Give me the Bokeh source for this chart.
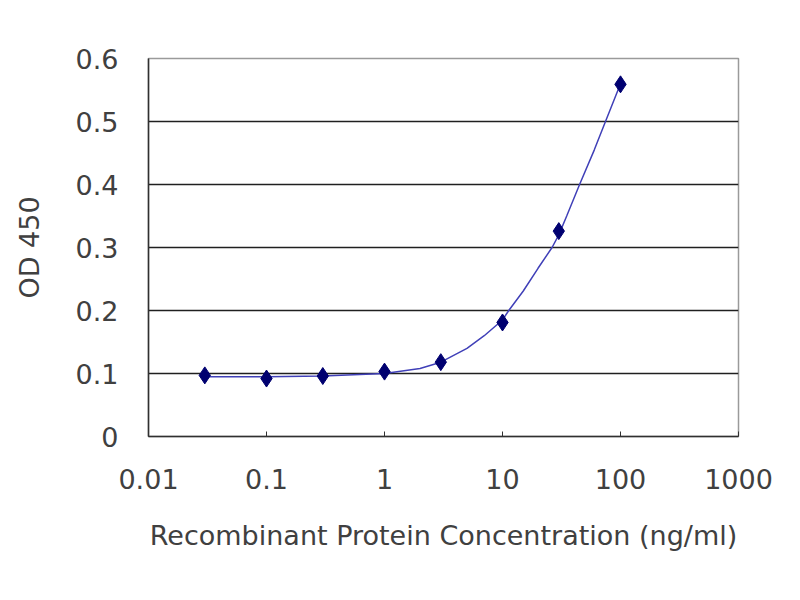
from bokeh.plotting import figure
from bokeh.embed import file_html
from bokeh.resources import INLINE
from bokeh.models import FixedTicker, CustomJSTickFormatter, Range1d

# measured points (ng/ml vs OD 450)
conc = [0.03, 0.1, 0.3, 1, 3, 10, 30, 100]
od = [0.097, 0.092, 0.096, 0.103, 0.118, 0.181, 0.326, 0.559]

# fitted curve
curve_x = [0.03, 0.1, 0.3, 1, 2, 3, 5, 7, 10, 11.3, 15, 20, 26.3, 30, 35, 45, 60, 74.6, 100]
curve_y = [0.095, 0.095, 0.096, 0.100, 0.108, 0.118, 0.140, 0.160, 0.185, 0.200, 0.231, 0.267,
           0.300, 0.320, 0.350, 0.400, 0.455, 0.500, 0.560]

x_ticks = [0.01, 0.1, 1, 10, 100, 1000]
y_ticks = [0, 0.1, 0.2, 0.3, 0.4, 0.5, 0.6]
grid_ticks = [0.1, 0.2, 0.3, 0.4, 0.5]

font = "DejaVu Sans"
text_color = "#404040"

p = figure(x_axis_type="log", frame_width=590, frame_height=378,
           min_border_left=148, min_border_right=46, min_border_top=58, min_border_bottom=148,
           x_range=Range1d(0.01, 1000), y_range=Range1d(0, 0.6),
           x_axis_label="Recombinant Protein Concentration (ng/ml)", y_axis_label="OD 450",
           output_backend="svg", toolbar_location=None)

p.line(curve_x, curve_y, line_color="#4040b8", line_width=1.5)
p.scatter(conc, od, marker="diamond", size=17, fill_color="#000070", line_color="#000070")

p.outline_line_color = "#9a9a9a"
p.outline_line_width = 1.5
p.xgrid.visible = False
p.ygrid.ticker = FixedTicker(ticks=grid_ticks)
p.ygrid.grid_line_color = "#202020"
p.ygrid.grid_line_width = 1.5

p.xaxis.ticker = FixedTicker(ticks=x_ticks, minor_ticks=[])
p.xaxis.formatter = CustomJSTickFormatter(code="return String(tick);")
p.yaxis.ticker = FixedTicker(ticks=y_ticks, minor_ticks=[])
p.yaxis.formatter = CustomJSTickFormatter(code="return String(tick);")

for ax in (p.xaxis, p.yaxis):
    ax.axis_line_color = "#303030"
    ax.axis_line_width = 1.5
    ax.major_label_text_font = font
    ax.major_label_text_font_size = "27px"
    ax.major_label_text_color = text_color
    ax.axis_label_text_font = font
    ax.axis_label_text_font_size = "27px"
    ax.axis_label_text_font_style = "normal"
    ax.axis_label_text_color = text_color
    ax.minor_tick_line_color = None

p.xaxis.major_tick_in = 5
p.xaxis.major_tick_out = 0
p.xaxis.major_tick_line_color = "#303030"
p.xaxis.major_label_standoff = 32
p.xaxis.axis_label_standoff = 28
p.yaxis.major_tick_in = 0
p.yaxis.major_tick_out = 0
p.yaxis.major_label_standoff = 30
p.yaxis.axis_label_standoff = 28

open("out.html", "w").write(file_html(p, INLINE))
